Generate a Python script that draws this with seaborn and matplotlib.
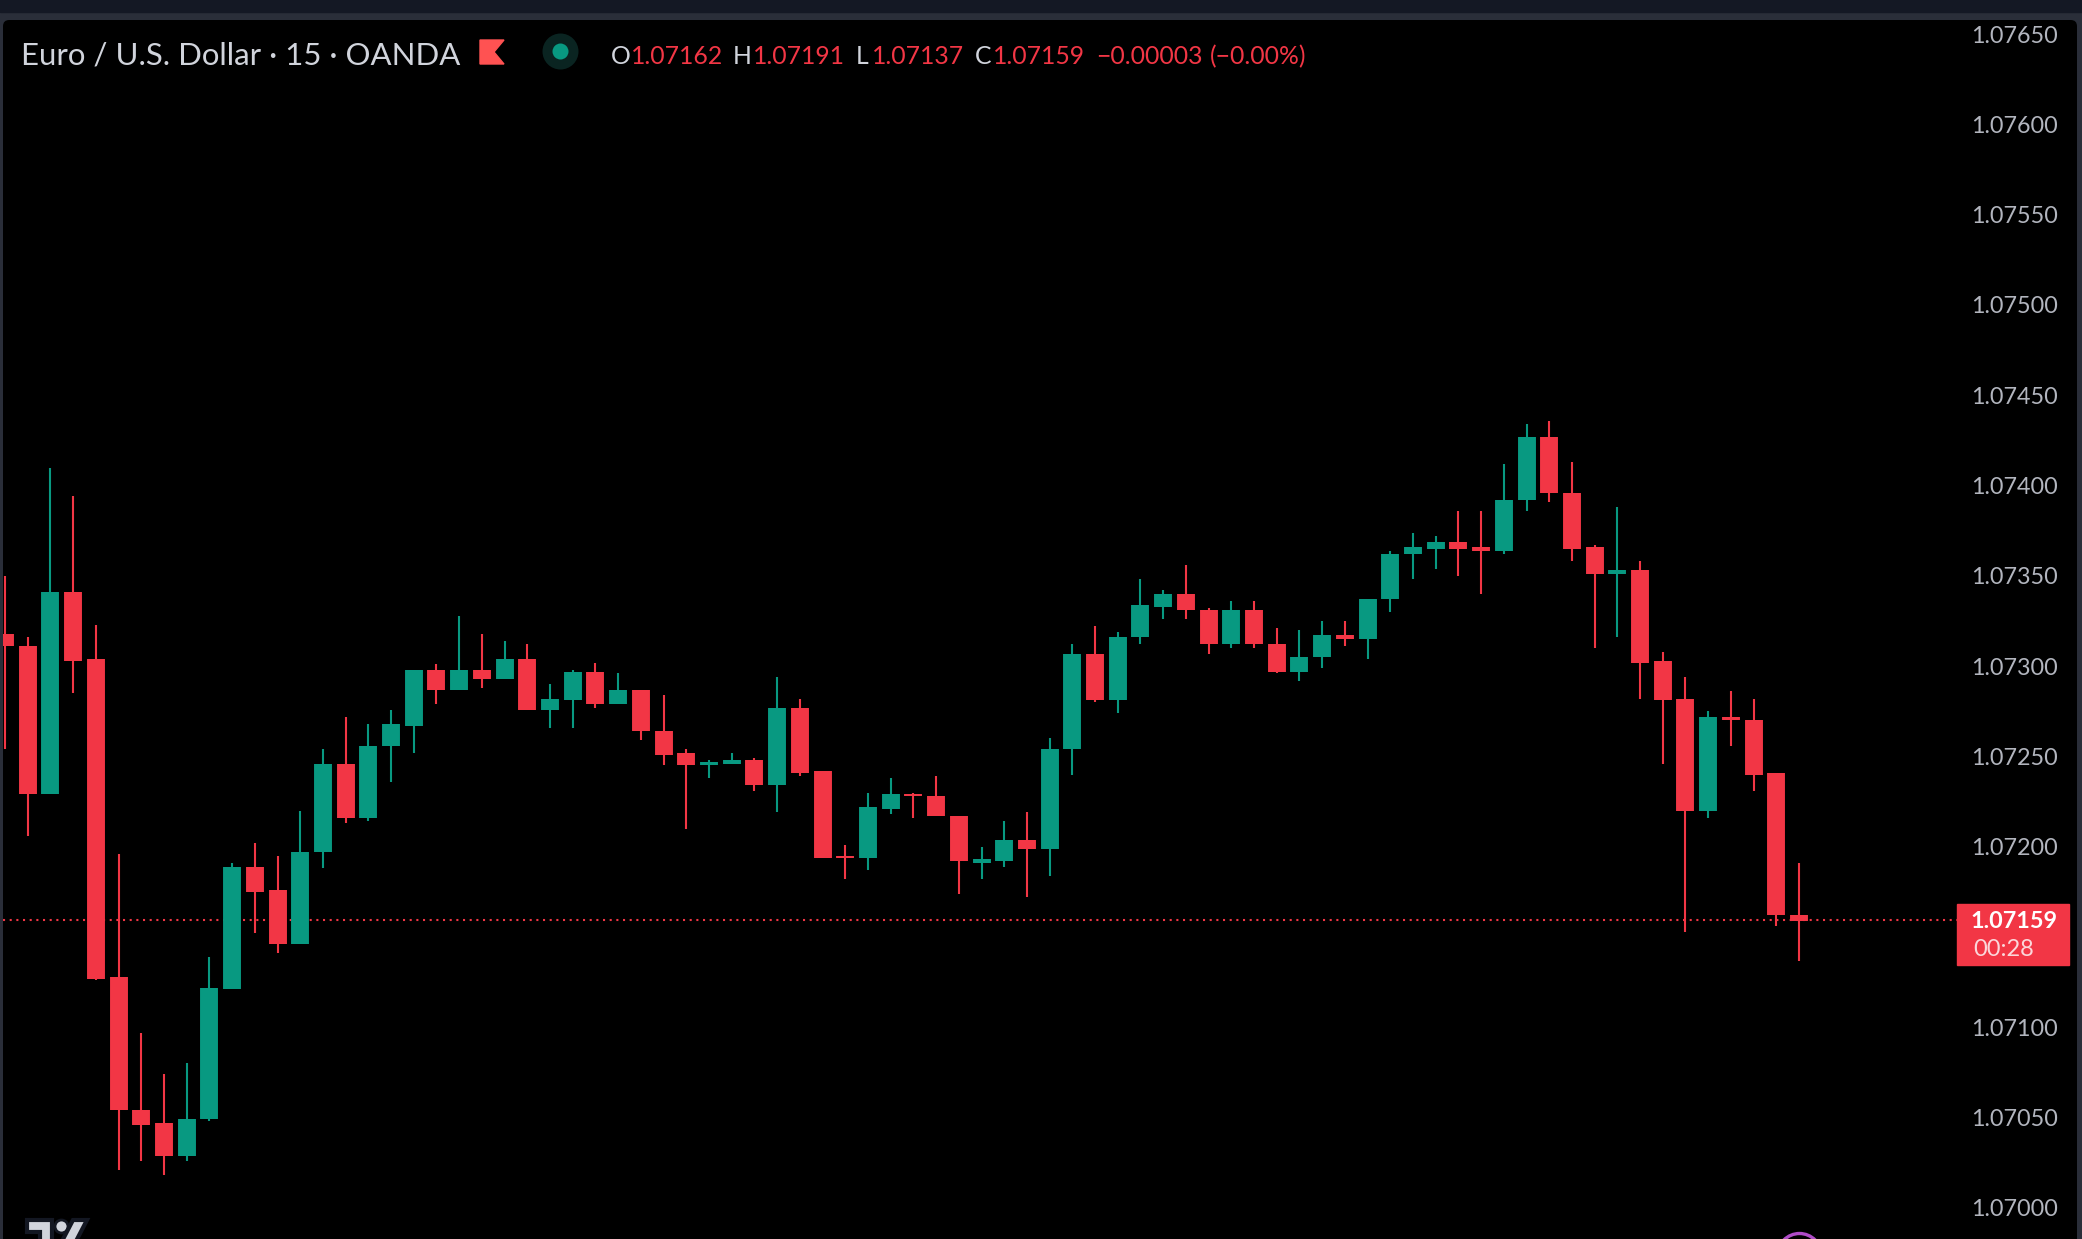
import matplotlib
matplotlib.use("Agg")
import matplotlib.pyplot as plt
import pandas as pd
import seaborn as sns
from matplotlib.patches import FancyBboxPatch, Polygon, Rectangle


WIDTH = 2082
HEIGHT = 1239
RED = "#f23645"
GREEN = "#089981"
TEXT = "#d1d4dc"

# prices, one per bar, left to right
OPEN = [
    1.07318, 1.07311, 1.07229, 1.07341, 1.07304, 1.07128, 1.07054, 1.07047, 1.07029, 1.07049,
    1.07121, 1.07189, 1.07176, 1.07146, 1.07197, 1.07246, 1.07216, 1.07256, 1.07267, 1.07298,
    1.07287, 1.07298, 1.07293, 1.07304, 1.07276, 1.07281, 1.07297, 1.07279, 1.07287, 1.07264,
    1.07252, 1.07245, 1.07246, 1.07248, 1.07234, 1.07277, 1.07242, 1.07195, 1.07194, 1.07221,
    1.07229, 1.07228, 1.07217, 1.07191, 1.07192, 1.07204, 1.07199, 1.07254, 1.07307, 1.07281,
    1.07316, 1.07333, 1.07340, 1.07331, 1.07312, 1.07331, 1.07312, 1.07297, 1.07305, 1.07317,
    1.07315, 1.07337, 1.07362, 1.07365, 1.07369, 1.07366, 1.07364, 1.07392, 1.07427, 1.07396,
    1.07366, 1.07351, 1.07353, 1.07303, 1.07282, 1.07220, 1.07272, 1.07270, 1.07241, 1.07162,
]
HIGH = [
    1.07350, 1.07316, 1.07410, 1.07394, 1.07323, 1.07196, 1.07097, 1.07074, 1.07080, 1.07139,
    1.07191, 1.07202, 1.07195, 1.07220, 1.07254, 1.07272, 1.07268, 1.07276, 1.07298, 1.07301,
    1.07328, 1.07318, 1.07314, 1.07312, 1.07290, 1.07298, 1.07302, 1.07296, 1.07287, 1.07284,
    1.07254, 1.07248, 1.07252, 1.07249, 1.07294, 1.07282, 1.07242, 1.07201, 1.07230, 1.07238,
    1.07230, 1.07239, 1.07217, 1.07200, 1.07214, 1.07219, 1.07260, 1.07312, 1.07322, 1.07319,
    1.07348, 1.07342, 1.07356, 1.07332, 1.07336, 1.07336, 1.07321, 1.07320, 1.07325, 1.07325,
    1.07337, 1.07364, 1.07374, 1.07372, 1.07386, 1.07386, 1.07412, 1.07434, 1.07436, 1.07413,
    1.07367, 1.07388, 1.07358, 1.07308, 1.07294, 1.07275, 1.07286, 1.07282, 1.07241, 1.07191,
]
LOW = [
    1.07254, 1.07206, 1.07229, 1.07285, 1.07126, 1.07021, 1.07026, 1.07018, 1.07026, 1.07048,
    1.07121, 1.07152, 1.07141, 1.07146, 1.07188, 1.07213, 1.07214, 1.07236, 1.07252, 1.07279,
    1.07287, 1.07288, 1.07293, 1.07276, 1.07266, 1.07266, 1.07277, 1.07279, 1.07259, 1.07245,
    1.07210, 1.07238, 1.07246, 1.07231, 1.07219, 1.07239, 1.07194, 1.07182, 1.07187, 1.07218,
    1.07216, 1.07217, 1.07174, 1.07182, 1.07189, 1.07172, 1.07184, 1.07240, 1.07280, 1.07274,
    1.07312, 1.07326, 1.07326, 1.07307, 1.07310, 1.07310, 1.07296, 1.07292, 1.07299, 1.07311,
    1.07304, 1.07330, 1.07348, 1.07354, 1.07350, 1.07340, 1.07362, 1.07386, 1.07391, 1.07358,
    1.07310, 1.07316, 1.07282, 1.07246, 1.07153, 1.07216, 1.07256, 1.07231, 1.07156, 1.07137,
]
CLOSE = [
    1.07311, 1.07229, 1.07341, 1.07303, 1.07127, 1.07054, 1.07046, 1.07029, 1.07049, 1.07122,
    1.07189, 1.07175, 1.07146, 1.07197, 1.07246, 1.07216, 1.07256, 1.07268, 1.07298, 1.07287,
    1.07298, 1.07293, 1.07304, 1.07276, 1.07282, 1.07297, 1.07279, 1.07287, 1.07264, 1.07251,
    1.07245, 1.07247, 1.07248, 1.07234, 1.07277, 1.07241, 1.07194, 1.07194, 1.07222, 1.07229,
    1.07228, 1.07217, 1.07192, 1.07193, 1.07204, 1.07199, 1.07254, 1.07307, 1.07281, 1.07316,
    1.07334, 1.07340, 1.07331, 1.07312, 1.07331, 1.07312, 1.07297, 1.07305, 1.07317, 1.07315,
    1.07337, 1.07362, 1.07366, 1.07369, 1.07365, 1.07364, 1.07392, 1.07427, 1.07396, 1.07365,
    1.07351, 1.07353, 1.07302, 1.07281, 1.07220, 1.07272, 1.07270, 1.07240, 1.07162, 1.07159,
]
TICKS = [
    1.07000, 1.07050, 1.07100, 1.07200, 1.07250, 1.07300, 1.07350,
    1.07400, 1.07450, 1.07500, 1.07550, 1.07600, 1.07650,
]
TITLE = "Euro / U.S. Dollar · 15 · OANDA"
COUNTDOWN = "00:28"


def px(x, y):
    """Figure fraction for a pixel position measured from the top left."""
    return x / WIDTH, 1 - y / HEIGHT


def label(fig, x, y, text, color=TEXT, size=17, ha="left", **kws):
    fx, fy = px(x, y)
    fig.text(fx, fy, text, color=color, fontsize=size, ha=ha, va="center", **kws)


def dot(fig, x, y, diameter, **kws):
    fig.add_artist(plt.Line2D(
        [x / WIDTH], [1 - y / HEIGHT], marker="o", markersize=diameter * 0.72,
        transform=fig.transFigure, **kws))


def long_table():
    """One row per end of a wick or a body, so lineplot can draw them as vertical lines."""
    rows_wick = []
    rows_body = []
    for i, (o, h, l, c) in enumerate(zip(OPEN, HIGH, LOW, CLOSE)):
        side = "up" if c > o else "down"
        rows_wick += [(i, h, side), (i, l, side)]
        rows_body += [(i, o, side), (i, c, side)]
    cols = ["bar", "price", "side"]
    return pd.DataFrame(rows_wick, columns=cols), pd.DataFrame(rows_body, columns=cols)


def draw_header(fig):
    label(fig, 21, 56, TITLE, size=22.4)
    fig.patches.append(Polygon(
        [px(480, 40), px(504, 40), px(494, 52), px(504, 64), px(480, 64)],
        transform=fig.transFigure, color="#ff5252"))

    dot(fig, 560, 51, 36, color="#0a2421", markeredgewidth=0)
    dot(fig, 560, 51, 16, color=GREEN, markeredgewidth=0)

    last = [("O", 611, OPEN[-1], 631), ("H", 733, HIGH[-1], 753),
            ("L", 856, LOW[-1], 872), ("C", 975, CLOSE[-1], 993)]
    for name, name_x, value, value_x in last:
        label(fig, name_x, 57, name, size=17.8)
        label(fig, value_x, 57, f"{value:.5f}", color=RED, size=17.8)
    change = CLOSE[-1] - OPEN[-1]
    label(fig, 1096, 57, f"\u2212{abs(change):.5f}", color=RED, size=17.8)
    label(fig, 1210, 57, f"(\u2212{abs(change) / OPEN[-1] * 100:.2f}%)", color=RED, size=17.8)


def draw_price_tag(fig):
    x0, y0 = px(1957, 965)
    x1, y1 = px(2069, 904)
    fig.patches.append(Rectangle(
        (x0, y0), x1 - x0, y1 - y0, transform=fig.transFigure, color=RED, zorder=5))
    label(fig, 2058, 922, f"{CLOSE[-1]:.5f}", color="white", size=16.8, ha="right",
          zorder=6, fontweight="bold")
    label(fig, 1973, 950, COUNTDOWN, color="#fbd7da", size=17, zorder=6)


def draw_logo(fig):
    shapes = [
        [(27, 1220), (52, 1220), (52, 1245), (40, 1245), (40, 1232), (27, 1232)],
        [(73, 1220), (87, 1220), (74, 1245), (60, 1245)],
    ]
    for points in shapes:
        fig.patches.append(Polygon(
            [px(x, y) for x, y in points], transform=fig.transFigure,
            facecolor=TEXT, edgecolor="#131722", linewidth=3, zorder=4))
    dot(fig, 61, 1226, 13, color=TEXT, markeredgecolor="#131722", markeredgewidth=2, zorder=4)

    # purple indicator ring cut off by the bottom edge
    dot(fig, 1799, 1255, 44, color="none", markeredgecolor="#b04cc8", markeredgewidth=2.4, zorder=4)


sns.set_theme(style="dark", rc={"axes.grid": False})
plt.rcParams["font.family"] = ["Lato", "DejaVu Sans"]

fig = plt.figure(figsize=(WIDTH / 100, HEIGHT / 100), dpi=100, facecolor="#2a2e39")

# top window band and the black chart panel with its rounded corners
fig.patches.append(Rectangle(
    px(0, 12), 1, 12 / HEIGHT, transform=fig.transFigure, color="#141824", zorder=-2))
panel_x, panel_y = px(3, 1300)
fig.patches.append(FancyBboxPatch(
    (panel_x, panel_y), 2074 / WIDTH, 1280 / HEIGHT, boxstyle="round,pad=0,rounding_size=0.003",
    mutation_aspect=WIDTH / HEIGHT, transform=fig.transFigure, facecolor="black",
    edgecolor="none", zorder=-1))

ax_left, ax_bottom = px(3, 1239)
ax = fig.add_axes([ax_left, ax_bottom, 2074 / WIDTH, 1219 / HEIGHT], facecolor="none")

wicks, bodies = long_table()
palette = {"up": GREEN, "down": RED}
sns.lineplot(data=wicks, x="bar", y="price", hue="side", units="bar", estimator=None,
             palette=palette, linewidth=1.5, legend=False, ax=ax, solid_capstyle="butt")
sns.lineplot(data=bodies, x="bar", y="price", hue="side", units="bar", estimator=None,
             palette=palette, linewidth=12.9, legend=False, ax=ax, solid_capstyle="butt")

ax.set_xlim(-0.088, 91.24)
ax.set_ylim(1.069828, 1.076578)
ax.set_xlabel("")
ax.set_ylabel("")
ax.set_xticks([])
ax.set_yticks(TICKS, [f"{t:.5f}" for t in TICKS])
ax.yaxis.tick_right()
ax.tick_params(axis="y", length=0, pad=-13.7, labelsize=16.8, labelcolor="#b2b5be")
for tick_label in ax.get_yticklabels():
    tick_label.set_ha("right")
    tick_label.set_va("center_baseline")
sns.despine(ax=ax, left=True, bottom=True)

# runs on under the price tag, which sits on top of it
ax.axhline(CLOSE[-1] + 0.000003, xmax=0.95, color=RED, linewidth=1.5,
           linestyle=(0, (1, 2.2)), zorder=1)

draw_header(fig)
draw_price_tag(fig)
draw_logo(fig)

fig.savefig("out.png", dpi=100, facecolor=fig.get_facecolor())
plt.close(fig)
